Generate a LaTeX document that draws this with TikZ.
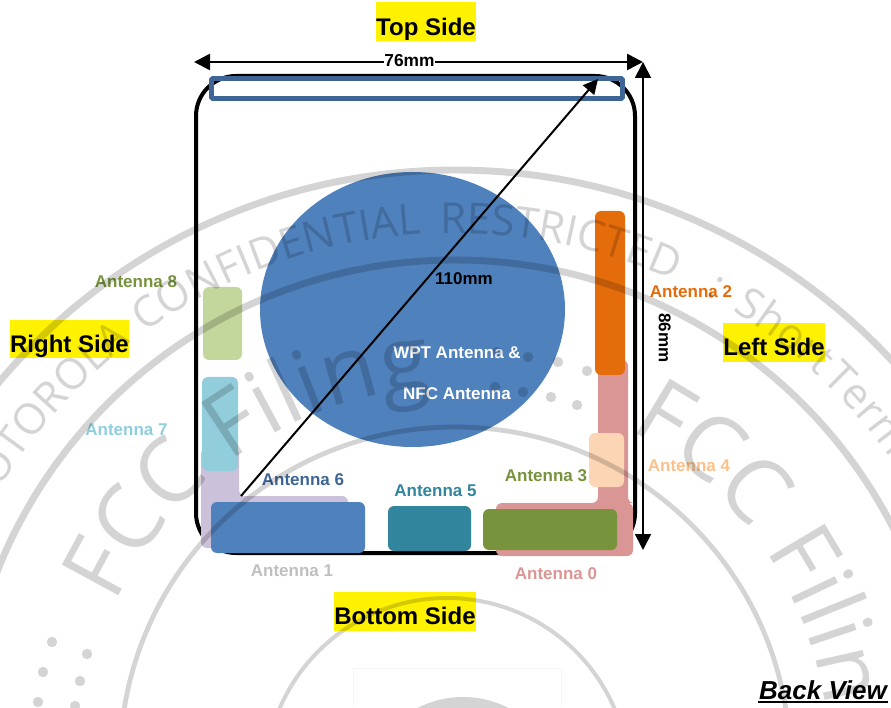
\documentclass[tikz,border=0pt]{standalone}
\usepackage{fontspec}
\setmainfont{Liberation Sans}
\newfontfamily\wmfont{Open Sans}
\usepackage{tikz}
\usetikzlibrary{arrows.meta,decorations.text}

\begin{document}
\begin{tikzpicture}[x=0.75pt,y=0.75pt,
    ant/.style={rounded corners=4.5pt},
    lab/.style={font=\fontsize{12.75}{14}\bfseries,inner sep=0pt,text height=9.2pt,text depth=0pt},
    sidelab/.style={font=\fontsize{18}{20}\bfseries,inner sep=0pt,text height=13pt,text depth=0pt,text=black},
    dim/.style={line width=1.9pt,{Triangle[length=12pt,width=12pt]}-{Triangle[length=12pt,width=12pt]}},
    wm/.style={line width=5.2pt,draw=black},
    wmdot/.style={fill=black}]
          \useasboundingbox (0,0) rectangle (891,707);
          \coordinate (wl) at (194,645);
          \coordinate (wr) at (643,645);
          \coordinate (vt) at (643,645);
          \coordinate (vb) at (643,157);
          \coordinate (da) at (241,211);
          \coordinate (db) at (598,628);
          \coordinate (o) at (455,-59);
          \definecolor{wpt}{HTML}{4F81BD}
          \definecolor{lav}{HTML}{CCC1DA}
          \definecolor{sky}{HTML}{92CDDC}
          \definecolor{lime}{HTML}{C3D69B}
          \definecolor{deep}{HTML}{31859C}
          \definecolor{olive}{HTML}{77933C}
          \definecolor{rose}{HTML}{D99694}
          \definecolor{peach}{HTML}{FCD5B5}
          \definecolor{amber}{HTML}{E46C0A}
          \definecolor{navy}{HTML}{3D6595}
          \draw[line width=3pt, rounded corners=30pt] (196,631) rectangle (635,154);
          \fill[wpt] (412.5,397.5) ellipse (152.5 and 137.5);
          \fill[ant, lav] (201,259) -- (239,259) -- (239,211) -- (348,211) -- (348,159) -- (201,159) -- cycle;
          \fill[ant, sky] (202,330) rectangle (238,236);
          \fill[ant, lime] (203,420) rectangle (242,347);
          \fill[ant, wpt] (211,205) rectangle (365,154);
          \fill[ant, deep] (388,201) rectangle (471,156);
          \fill[ant, rose] (598,347) -- (628,347) -- (628,204) -- (633,204) -- (633,151) -- (496,151) -- (496,204) -- (598,204) -- cycle;
          \fill[ant, olive] (483,198) rectangle (617,157);
          \fill[ant, peach] (589,274) rectangle (624,220);
          \fill[ant, amber] (595,496) rectangle (625,332);
          \draw[line width=3.7pt, navy, rounded corners=1pt] (211.5,628.5) rectangle (622.5,608.5);
          \draw[dim] (wl) -- (wr) node[pos=0.48, fill=white, inner sep=1pt, lab, font=\fontsize{13}{14}\bfseries, yshift=1pt] (w76) {76mm};
          \draw[line width=1.5pt, -{Triangle[length=11pt,width=11pt]}] (da) -- (db);
          \draw[line width=1.3pt, {Triangle[length=12pt,width=12pt]}-{Triangle[length=12pt,width=12pt]}] (vt) -- (vb);
          \node[lab, rotate=-90] (v86) at (665,369) {86mm};
          \node[lab] (d110) at (464,429) {110mm};
          \node[lab, text=white] (wpt1) at (457,355) {WPT Antenna \&};
          \node[lab, text=white] (wpt2) at (457,314) {NFC Antenna};
          \node[lab, text=olive] (a8) at (136,426) {Antenna 8};
          \node[lab, text=sky] (a7) at (126.5,278) {Antenna 7};
          \node[lab, text=navy] (a6) at (303,228) {Antenna 6};
          \node[lab, text=deep] (a5) at (435.5,217) {Antenna 5};
          \node[lab, text=olive] (a3) at (546,232) {Antenna 3};
          \node[lab, text=peach!75!orange] (a4) at (689,242) {Antenna 4};
          \node[lab, text=amber] (a2) at (691,416) {Antenna 2};
          \node[lab, text=black!25] (a1) at (292,137) {Antenna 1};
          \node[lab, text=rose] (a0) at (556,134) {Antenna 0};
          \fill[yellow] (376,705) rectangle (476,666);
          \fill[yellow] (10,386.5) rectangle (129,349);
          \fill[yellow] (723,384) rectangle (825,345);
          \fill[yellow] (334,115) rectangle (476,76);
          \node[sidelab] (top) at (426,680) {Top Side};
          \node[sidelab] (right) at (69.5,363) {Right Side};
          \node[sidelab] (left) at (774,360) {Left Side};
          \node[sidelab] (bottom) at (405,91) {Bottom Side};
          \node[inner sep=0pt, font=\fontsize{19.5}{22}\bfseries\itshape] (back) at (823,17) {Back View};
          \draw[line width=1.6pt] (758,5) -- (888,5);
          \draw[black!4] (353,0) -- (353,39) -- (561,39) -- (561,0);
          \begin{scope}[opacity=0.17]
          \clip (0,0) rectangle (891,707);
          \draw[wm] (o) circle (596);
          \draw[wm] (455,-45) circle (492);
          \draw[wm, line width=3.6pt] (455,-55) circle (335);
          \draw[wm, line width=3pt] (447,-73) circle (182);
          \fill[black] (463,-90) circle (100);
          \foreach \a/\w in {152.8/MOTOROLA,125.6/CONFIDENTIAL,91.6/RESTRICTED,62/:,58.6/Short,46.5/Term}
          {
          \path[decorate, decoration={text along path, text={|\wmfont\fontsize{32}{32}\selectfont|\w}}]
            (o) ++(\a:533) arc[start angle=\a, end angle=\a-40, radius=533];
          }
          \foreach \a in {155,62.4}
          {
          \path[decorate, decoration={text along path, text={|\wmfont\fontsize{67.5}{70}\selectfont|FCC Filing}}]
            (455,-55) ++(\a:375) arc[start angle=\a, end angle=\a-72, radius=375];
          }
          \foreach \x/\y in {497/352,528/357,558/362,587/371,495/387,523/392,551/397,577/405,52/642,87/654,43/672,80/681,38/702,75/706}
          {
          \fill[wmdot] (\x,707-\y) circle (5.2);
          }
          \end{scope}
        \end{tikzpicture}
\end{document}
